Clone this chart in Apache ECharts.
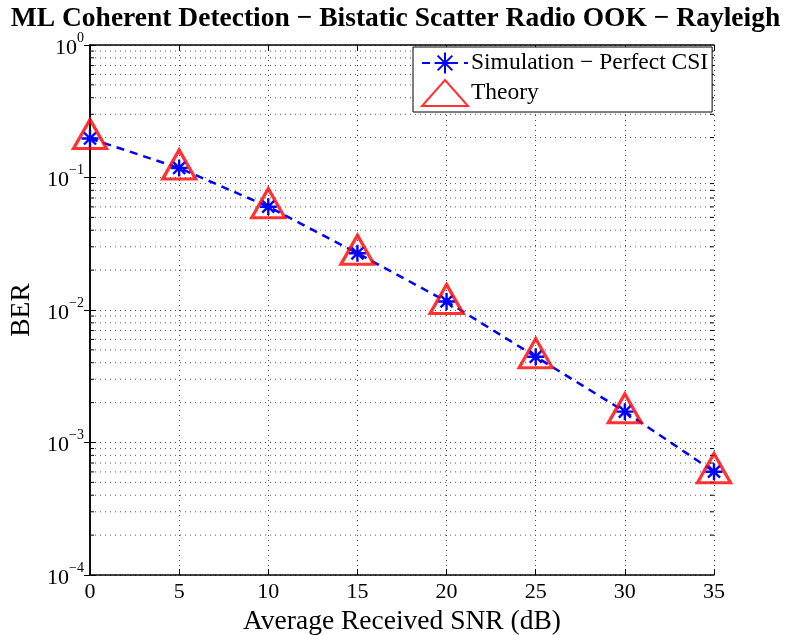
<!DOCTYPE html>
<html>
<head>
<meta charset="utf-8">
<script src="https://cdn.jsdelivr.net/npm/echarts@6/dist/echarts.min.js"></script>
<style>html,body{margin:0;padding:0;background:#fff}#c{width:791px;height:635px}</style>
</head>
<body>
<div id="c"></div>
<script>
const titleText = 'ML Coherent Detection \u2212 Bistatic Scatter Radio OOK \u2212 Rayleigh';
const snr = [0, 5, 10, 15, 20, 25, 30, 35];
const berSim = [0.197, 0.118, 0.0602, 0.0268, 0.0116, 0.00444, 0.00171, 0.000602];
const berTheory = [0.213, 0.1254, 0.064, 0.0285, 0.0121, 0.00472, 0.00181, 0.00064];
const xTicks = [0, 5, 10, 15, 20, 25, 30, 35];
const yDecades = [1e-4, 1e-3, 1e-2, 1e-1, 1];
const minorMult = [2, 3, 4, 5, 6, 7, 8, 9];
const legendNames = ['Simulation \u2212 Perfect CSI', 'Theory'];

const minorVals = [];
yDecades.slice(0, 4).forEach(d => minorMult.forEach(m => minorVals.push(+(d * m).toPrecision(3))));

const FONT = 'Liberation Serif';
const starPath = 'path://M0,-10 L0,10 M-10,0 L10,0 M-7.07,-7.07 L7.07,7.07 M-7.07,7.07 L7.07,-7.07';
const dotStyle = [1, 4];

const chart = echarts.init(document.getElementById('c'), null, {renderer: 'canvas'});
function supLabel(v) {
  const e = Math.round(Math.log10(v));
  return '{b|10}{s|' + (e < 0 ? '\u2212' + (-e) : e) + '}';
}
chart.setOption({
  animation: false,
  backgroundColor: '#fff',
  title: {
    text: titleText, left: 'center', top: 0,
    textStyle: {fontFamily: FONT, fontWeight: 'bold', fontSize: 27.5, color: '#000'}
  },
  grid: {left: 90, right: 77, top: 45, bottom: 60, containLabel: false, outerBoundsMode: 'none'},
  legend: {
    data: legendNames,
    orient: 'vertical', left: 413, top: 47,
    backgroundColor: '#fff', borderColor: '#000', borderWidth: 1,
    padding: [4, 4, 5, 8],
    itemWidth: 46, itemHeight: 26, itemGap: 4,
    textStyle: {fontFamily: FONT, fontSize: 23.5, color: '#000', padding: [0, 0, 0, -2]}
  },
  xAxis: [{
    type: 'value', min: 0, max: 35, interval: 5,
    name: 'Average Received SNR (dB)', nameLocation: 'middle', nameGap: 21,
    nameTextStyle: {fontFamily: FONT, fontSize: 27.5, color: '#000'},
    axisLine: {lineStyle: {color: '#000', width: 1.5}},
    axisTick: {inside: true, length: 6, lineStyle: {color: '#000'}},
    axisLabel: {fontFamily: FONT, fontSize: 22, color: '#000', margin: 6},
    splitLine: {show: true, lineStyle: {color: '#444', type: dotStyle, width: 1}}
  }, {
    type: 'value', min: 0, max: 35, interval: 5, position: 'top',
    axisLine: {show: true, lineStyle: {color: '#000', width: 1.5}},
    axisTick: {inside: true, length: 6, lineStyle: {color: '#000'}},
    axisLabel: {show: false}, splitLine: {show: false}
  }],
  yAxis: [{
    type: 'log', logBase: 10, min: 1e-4, max: 1,
    name: 'BER', nameLocation: 'middle', nameGap: 48,
    nameTextStyle: {fontFamily: FONT, fontSize: 27.5, color: '#000'},
    axisLine: {show: true, lineStyle: {color: '#000', width: 1.5}},
    axisTick: {show: true, inside: true, length: 6, lineStyle: {color: '#000'}},
    axisLabel: {
      margin: 6,
      formatter: supLabel,
      rich: {
        b: {fontFamily: FONT, fontSize: 22, color: '#000', verticalAlign: 'bottom'},
        s: {fontFamily: FONT, fontSize: 14, color: '#000', verticalAlign: 'top', padding: [0, 0, 14, 0]}
      }
    },
    splitLine: {show: true, lineStyle: {color: '#444', type: dotStyle, width: 1}}
  }, {
    type: 'log', logBase: 10, min: 1e-4, max: 1, position: 'right',
    axisLine: {show: true, lineStyle: {color: '#000', width: 1.5}},
    axisTick: {show: true, inside: true, length: 6, lineStyle: {color: '#000'}},
    axisLabel: {show: false}, splitLine: {show: false}
  }],
  series: [{
    type: 'custom',
    silent: true,
    z: 1,
    data: minorVals.map(v => [0, v]),
    renderItem: function (params, api) {
      const v = api.value(1);
      const p0 = api.coord([0, v]);
      const p1 = api.coord([35, v]);
      return {
        type: 'group',
        children: [{
          type: 'line', shape: {x1: p0[0], y1: p0[1], x2: p1[0], y2: p1[1]},
          style: {stroke: '#555', lineWidth: 1, lineDash: dotStyle}
        }, {
          type: 'line', shape: {x1: p0[0], y1: p0[1], x2: p0[0] + 4, y2: p0[1]},
          style: {stroke: '#000', lineWidth: 1}
        }, {
          type: 'line', shape: {x1: p1[0], y1: p1[1], x2: p1[0] - 4, y2: p1[1]},
          style: {stroke: '#000', lineWidth: 1}
        }]
      };
    }
  }, {
    name: legendNames[0],
    type: 'line',
    data: snr.map((x, i) => [x, berSim[i]]),
    symbol: starPath, symbolSize: 17,
    showAllSymbol: true,
    z: 3,
    itemStyle: {color: '#0000ff', borderColor: '#0000ff', borderWidth: 2.4},
    lineStyle: {color: '#0000ff', width: 2.5, type: [8, 6]}
  }, {
    name: legendNames[1],
    type: 'scatter',
    data: snr.map((x, i) => [x, berTheory[i]]),
    symbol: 'triangle', symbolSize: [33, 29],
    z: 4,
    itemStyle: {color: 'rgba(0,0,0,0)', borderColor: '#ff0000', borderWidth: 3.2}
  }]
});
</script>
</body>
</html>
